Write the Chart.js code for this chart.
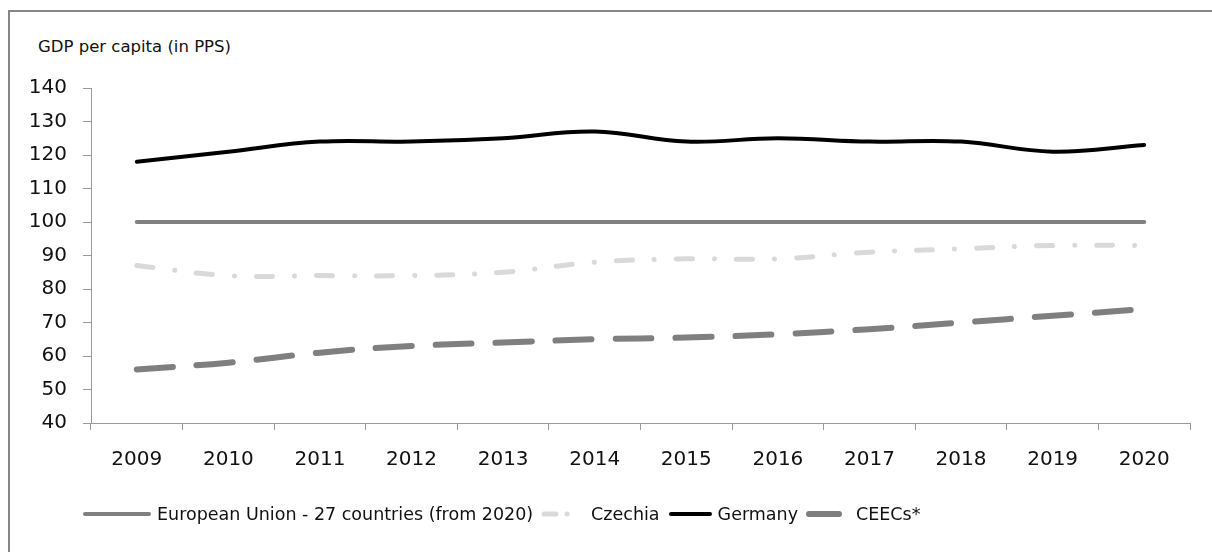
<!DOCTYPE html>
<html>
<head>
<meta charset="utf-8">
<script src="https://cdn.jsdelivr.net/npm/chart.js@4"></script>
<style>
    body { margin: 0; background: #fff; }
    .wrap { position: relative; width: 1212px; height: 552px; overflow: hidden; font-family: "DejaVu Sans", sans-serif; color: #111; }
    .frame { position: absolute; left: 8px; top: 10px; width: 1240px; height: 600px; border: 2px solid #868686; box-sizing: border-box; }
    .title { position: absolute; left: 38px; top: 37px; font-size: 16.5px; }
    canvas { position: absolute; left: 0; top: 0; }
    .legend { position: absolute; left: 82px; top: 504px; display: flex; align-items: center; font-size: 17.5px; white-space: nowrap; }
    .legend .item { display: flex; align-items: center; margin-right: 8px; }
    .legend svg { margin-right: 5px; }
</style>
</head>
<body>
<div class="wrap">
    <div class="frame"></div>
    <div class="title">GDP per capita (in PPS)</div>
    <canvas id="gdpChart" width="1212" height="552"></canvas>
    <div class="legend" id="legend"></div>
</div>
<script>
const years = ['2009', '2010', '2011', '2012', '2013', '2014', '2015', '2016', '2017', '2018', '2019', '2020'];
const eu27 = [100, 100, 100, 100, 100, 100, 100, 100, 100, 100, 100, 100];
const czechia = [87, 84, 84, 84, 85, 88, 89, 89, 91, 92, 93, 93];
const germany = [118, 121, 124, 124, 125, 127, 124, 125, 124, 124, 121, 123];
const ceecs = [56, 58, 61, 63, 64, 65, 65.5, 66.5, 68, 70, 72, 74];

const tickFont = { family: 'DejaVu Sans', size: 20 };

const datasets = [
    { label: 'European Union - 27 countries (from 2020)', data: eu27, borderColor: '#808080', borderWidth: 4, borderDash: [], legendWidth: 70 },
    { label: 'Czechia', data: czechia, borderColor: '#d9d9d9', borderWidth: 5, borderDash: [16, 22, 0.1, 22], legendWidth: 45, legendDash: '12 11 0.1 30' },
    { label: 'Germany', data: germany, borderColor: '#000000', borderWidth: 4, borderDash: [], legendWidth: 45 },
    { label: 'CEECs*', data: ceecs, borderColor: '#7f7f7f', borderWidth: 6, borderDash: [36, 24], legendWidth: 45, legendDash: '30 40' }
];

const ctx = document.getElementById('gdpChart').getContext('2d');
new Chart(ctx, {
    type: 'line',
    data: {
        labels: years,
        datasets: datasets.map(d => ({
            label: d.label,
            data: d.data,
            borderColor: d.borderColor,
            borderWidth: d.borderWidth,
            borderDash: d.borderDash,
            borderCapStyle: 'round',
            borderJoinStyle: 'round',
            tension: 0.4,
            pointRadius: 0,
            fill: false
        }))
    },
    options: {
        responsive: false,
        animation: false,
        layout: { padding: { left: 0, top: 88, right: 22, bottom: 0 } },
        plugins: {
            legend: { display: false },
            tooltip: { enabled: false }
        },
        scales: {
            x: {
                offset: true,
                grid: { offset: true, drawOnChartArea: false, tickLength: 7, color: '#9a9a9a' },
                border: { color: '#9a9a9a', width: 1 },
                ticks: { font: tickFont, color: '#111', padding: 18, maxRotation: 0 },
                afterFit: function(scale) { scale.height = 129; }
            },
            y: {
                min: 40,
                max: 140,
                grid: { drawOnChartArea: false, tickLength: 8, color: '#9a9a9a' },
                border: { color: '#9a9a9a', width: 1 },
                ticks: { stepSize: 10, font: tickFont, color: '#111', padding: 16 },
                afterFit: function(scale) { scale.width = 91; }
            }
        }
    }
});

// Legend
const legend = document.getElementById('legend');
datasets.forEach(d => {
    const item = document.createElement('div');
    item.className = 'item';
    const w = d.legendWidth;
    const dash = d.legendDash ? ` stroke-dasharray="${d.legendDash}"` : '';
    item.innerHTML = `<svg width="${w}" height="12"><line x1="3" y1="6" x2="${w - 3}" y2="6" stroke="${d.borderColor}" stroke-width="${d.borderWidth}" stroke-linecap="round"${dash}/></svg><span>${d.label}</span>`;
    legend.appendChild(item);
});
</script>
</body>
</html>
